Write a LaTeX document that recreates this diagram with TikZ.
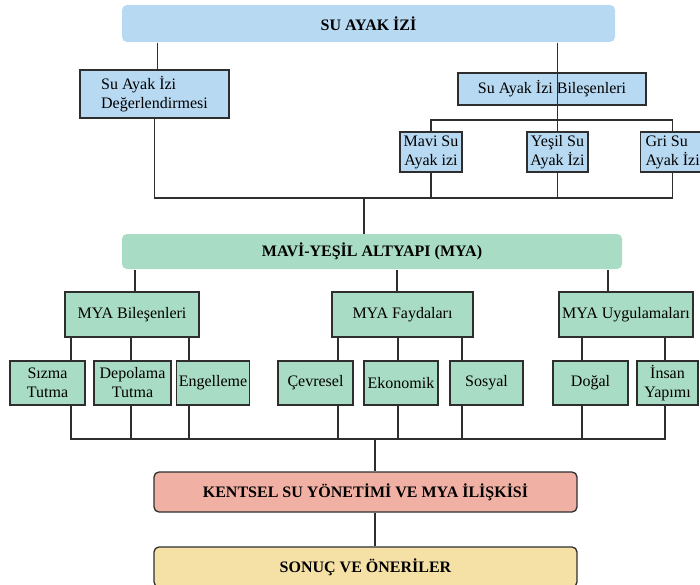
\documentclass[tikz,border=0pt]{standalone}
\usepackage{fontspec}
\setmainfont{Liberation Serif}

\definecolor{sablue}{HTML}{B8D9F2}
\definecolor{myagreen}{HTML}{A9DCC4}
\definecolor{ksalmon}{HTML}{F0B0A3}
\definecolor{syellow}{HTML}{F5E0A6}
\definecolor{lnk}{HTML}{2E2E2E}

\begin{document}
\begin{tikzpicture}[x=1pt, y=-1pt, line width=1.2pt,
  every node/.style={font=\fontsize{16}{19}\selectfont, inner sep=2pt},
  title/.style={rounded corners=5pt, font=\fontsize{16}{19}\selectfont\bfseries},
  box/.style={draw=lnk, line width=1.3pt, align=center},
  leaf/.style={box, fill=myagreen, minimum height=44}]
\useasboundingbox (0,0) rectangle (700,585);

%% su ayak izi
\node[title, fill=sablue, minimum width=493, minimum height=37] (sai) at (368.5,23.5) {SU AYAK İZİ};
\node[box, fill=sablue, align=left, minimum width=149, minimum height=48] (deger) at (154.5,94) {Su Ayak İzi\\Değerlendirmesi};
\node[box, fill=sablue, minimum width=188, minimum height=32] (bilesen) at (552,89) {Su Ayak İzi Bileşenleri};
\node[box, fill=sablue, minimum width=62, minimum height=40] (mavi) at (431,152) {Mavi Su\\Ayak izi};
\node[box, fill=sablue, minimum width=61, minimum height=40] (yesil) at (557.5,152) {Yeşil Su\\Ayak İzi};
\node[box, fill=sablue, align=left, anchor=west, inner xsep=5, minimum height=40] (gri) at (640,152) {Gri Su\\Ayak İzi};

\draw[lnk] ([xshift=3]sai.south -| deger) -- ([xshift=3]deger.north);
\draw[lnk] (sai.south -| yesil) -- (bilesen.south -| yesil) -- (yesil.north);
\coordinate (f1) at (558,120);
\draw[lnk] (mavi.north) |- (f1) -| (gri.north);

\coordinate (j1) at (364,198);
\draw[lnk] (deger.south) |- (gri.south |- j1) -- (gri.south);
\draw[lnk] (mavi.south) -- (mavi.south |- j1);
\draw[lnk] (yesil.south) -- (yesil.south |- j1);
\draw[lnk] (j1) -- ++(0,36);

%% mavi-yesil altyapi
\node[title, fill=myagreen, minimum width=500, minimum height=35] (mya) at (372,251.5) {MAVİ-YEŞİL ALTYAPI (MYA)};
\node[box, fill=myagreen, minimum width=134, minimum height=45] (myab) at (132,314.5) {MYA Bileşenleri};
\node[box, fill=myagreen, minimum width=141, minimum height=45] (myaf) at (402.5,314.5) {MYA Faydaları};
\node[box, fill=myagreen, minimum width=134, minimum height=45] (myau) at (626,314.5) {MYA Uygulamaları};

\draw[lnk] ([xshift=3]myab.north) -- ([xshift=3]myab.north |- mya.south);
\draw[lnk] ([xshift=-5.5]myaf.north) -- ([xshift=-5.5]myaf.north |- mya.south);
\draw[lnk] ([xshift=-18]myau.north) -- ([xshift=-18]myau.north |- mya.south);

\node[leaf, minimum width=75] (sizma) at (47.5,383) {Sızma\\Tutma};
\node[leaf, minimum width=77] (depo) at (132.5,383) {Depolama\\Tutma};
\node[leaf, minimum width=72] (engel) at (213,383) {Engelleme};
\node[leaf, minimum width=75] (cevre) at (315.5,383) {Çevresel};
\node[leaf, minimum width=74] (ekon) at (401,383) {Ekonomik};
\node[leaf, minimum width=73] (sosyal) at (486.5,383) {Sosyal};
\node[leaf, minimum width=75] (dogal) at (590.5,383) {Doğal};
\node[leaf, minimum width=61] (insan) at (667.5,383) {İnsan\\Yapımı};

%% leaf lines
\coordinate (c1) at ([xshift=23.5]sizma.north);
\coordinate (c2) at ([xshift=-1.5]depo.north);
\coordinate (c3) at ([xshift=-24]engel.north);
\coordinate (c4) at ([xshift=22.5]cevre.north);
\coordinate (c5) at ([xshift=-3]ekon.north);
\coordinate (c6) at ([xshift=-24.5]sosyal.north);
\coordinate (c7) at ([xshift=-8.5]dogal.north);
\coordinate (c8) at ([xshift=-2.5]insan.north);
\draw[lnk] (c1) -- (c1 |- myab.south);
\draw[lnk] (c2) -- (c2 |- myab.south);
\draw[lnk] (c3) -- (c3 |- myab.south);
\draw[lnk] (c4) -- (c4 |- myaf.south);
\draw[lnk] (c5) -- (c5 |- myaf.south);
\draw[lnk] (c6) -- (c6 |- myaf.south);
\draw[lnk] (c7) -- (c7 |- myau.south);
\draw[lnk] (c8) -- (c8 |- myau.south);

\coordinate (j2) at (375,439);
\draw[lnk] (c1 |- sizma.south) |- (c8 |- j2) -- (c8 |- insan.south);
\draw[lnk] (c2 |- depo.south) -- (c2 |- j2);
\draw[lnk] (c3 |- engel.south) -- (c3 |- j2);
\draw[lnk] (c4 |- cevre.south) -- (c4 |- j2);
\draw[lnk] (c5 |- ekon.south) -- (c5 |- j2);
\draw[lnk] (c6 |- sosyal.south) -- (c6 |- j2);
\draw[lnk] (c7 |- dogal.south) -- (c7 |- j2);

%% kentsel su, sonuc
\node[box, title, fill=ksalmon, minimum width=423, minimum height=40] (kentsel) at (365.5,492) {KENTSEL SU YÖNETİMİ VE MYA İLİŞKİSİ};
\node[box, title, fill=syellow, minimum width=423, minimum height=40] (sonuc) at (365.5,567) {SONUÇ VE ÖNERİLER};

\draw[lnk] (j2) -- (j2 |- kentsel.north);
\draw[lnk] (kentsel.south -| j2) -- (sonuc.north -| j2);
\end{tikzpicture}
\end{document}
